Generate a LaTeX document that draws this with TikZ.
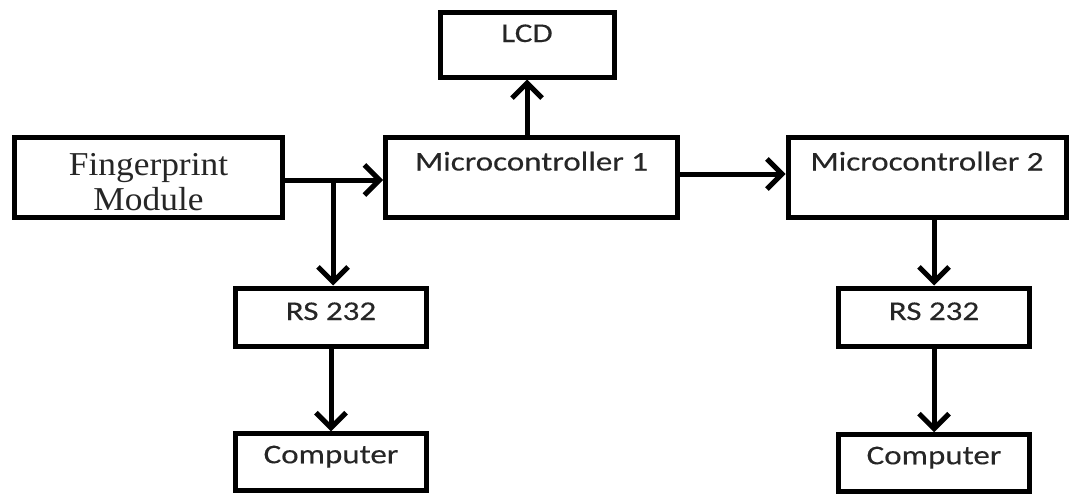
\documentclass[tikz,border=0pt]{standalone}
\usepackage{fontspec}
\setmainfont[FakeStretch=1.22,FakeBold=0.3]{Carlito}
\newfontfamily\fpfont[FakeStretch=1.06]{Liberation Serif}
\usetikzlibrary{arrows.meta}

\begin{document}
\begin{tikzpicture}[
    every node/.style={font=\fontsize{15.4}{18}\selectfont, text=black!85},
    block/.style={
        draw=black,
        line width=0.1cm,
        inner sep=0pt,
        align=center
    },
    wide/.style={
        block,
        text height=0.67cm,
        text depth=0.93cm
    },
    small/.style={
        block,
        minimum width=3.82cm,
        text height=0.64cm,
        text depth=0.52cm
    },
    arr/.style={
        -{Straight Barb[length=0.3cm,width=0.6cm]},
        line width=0.1cm
    }
]

\useasboundingbox (0,0) rectangle (21.48,9.86);

\node[block, minimum width=5.36cm, text height=1.46cm, text depth=0.14cm,
      font=\fpfont\fontsize{19}{19.9}\selectfont] (fp) at (2.97,6.32) {Fingerprint\\Module};
\node[wide, minimum width=5.84cm] (mc1) at (10.63,6.32) {Microcontroller 1};
\node[wide, minimum width=5.56cm] (mc2) at (18.54,6.32) {Microcontroller 2};
\node[block, minimum width=3.48cm, text height=0.6cm, text depth=0.7cm] (lcd) at (10.54,8.97) {LCD};

\node[small] (rsl) at (6.62,3.52) {RS 232};
\node[small, text height=0.59cm, text depth=0.54cm] (cpl) at (6.62,0.62) {Computer};
\node[small] (rsr) at (18.68,3.52) {RS 232};
\node[small, text height=0.59cm, text depth=0.54cm] (cpr) at (18.68,0.6) {Computer};

\coordinate (split) at ([xshift=0.96cm,yshift=-0.06cm]fp.east);

\draw[arr] ([yshift=-0.06cm]fp.east) -- ([yshift=-0.06cm]mc1.west);
\draw[arr] (split) -- (split |- rsl.north);
\draw[arr] (lcd.south |- mc1.north) -- (lcd.south);
\draw[arr] ([yshift=0.06cm]mc1.east) -- ([yshift=0.06cm]mc2.west);
\draw[arr] (rsr.north |- mc2.south) -- (rsr.north);
\draw[arr] (rsl.south) -- (cpl.north);
\draw[arr] (rsr.south) -- (cpr.north);

\end{tikzpicture}
\end{document}
